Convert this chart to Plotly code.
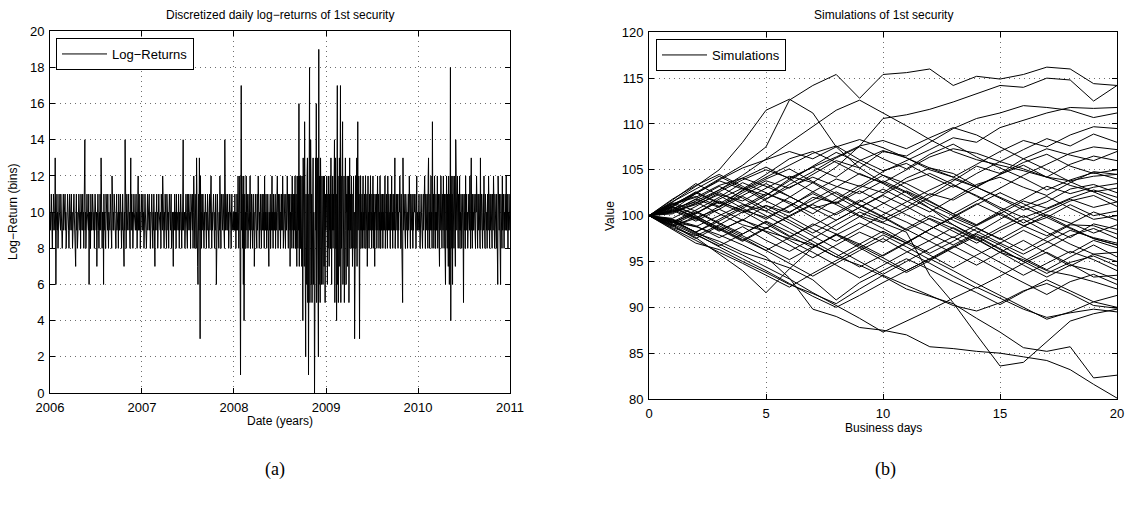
import plotly.graph_objects as go
import pandas as pd

# ---------------- data: discretized daily log-returns (bins), one list per year ----------------
ret_2006 = [10,9,10,11,9,10,8,10,9,11, 10,9,10,9,13,10,6,9,10,11, 9,10,8,10,9,11,10,9,10,9,
            11,10,9,10,8,9,10,11,9,10, 9,10,11,9,10,8,10,9,10,11, 9,10,9,8,10,11,9,10,9,10,
            11,9,10,8,9,10,9,11,10,9, 10,9,7,10,11,9,10,8,10,9, 10,11,9,10,9,10,8,11,9,10,
            9,10,11,9,10,8,10,9,14,9, 10,8,10,9,11,10,9,10,9,11, 6,10,9,10,8,11,9,10,9,10,
            11,9,10,9,10,8,10,11,9,10, 9,10,7,9,10,11,10,9,8,10, 9,11,10,9,13,10,9,8,10,9,
            10,6,11,9,10,9,10,8,11,10, 9,10,9,11,10,8,10,9,10,9, 11,10,9,10,8,12,9,10,9,10,
            9,11,10,9,10,9,8,10,11,9, 10,9,10,8,11,9,10,9,10,11, 9,10,8,10,9,11,10,9,10,7,
            10,9,14,10,9,8,10,11,9,10, 9,10,11,9,10,9,8,10,13,9, 10,11,9,10,8,10,9,11,10,9,
            10,9,10,11,9,10,8,9,10,12, 9,10,11,9,10,8,10,9,11,10]
ret_2007 = [9,10,11,9,10,8,10,9,11,10, 9,10,8,9,10,11,9,10,9,10, 11,9,10,8,10,9,10,11,9,10,
            8,10,9,11,10,9,7,10,9,10, 10,11,9,10,8,10,9,11,10,9, 10,9,10,8,11,9,10,9,12,10,
            9,10,8,10,9,11,10,9,10,8, 11,9,10,9,10,8,10,11,9,10, 9,10,11,8,10,9,10,9,7,10,
            10,9,11,10,9,10,8,11,9,10, 9,10,9,11,10,8,10,9,10,11, 10,9,8,10,9,11,14,9,10,9,
            10,8,10,9,11,10,9,10,8,11, 9,10,11,9,10,9,10,8,11,10, 9,10,9,11,8,10,12,9,10,8,
            11,9,10,8,13,9,10,7,6,10, 11,9,13,10,3,12,9,10,8,11, 9,10,11,9,10,8,10,9,10,11,
            9,10,8,10,9,11,10,9,10,8, 10,11,9,10,9,12,10,8,10,9, 10,9,11,10,9,8,10,9,11,10,
            6,10,9,11,10,9,10,8,10,9, 12,9,10,8,11,10,9,10,9,11, 10,9,10,8,14,10,9,11,10,9,
            9,10,11,9,10,8,10,9,11,10, 10,9,8,10,11,9,10,9,10,9]
ret_2008 = [10,9,11,9,10,8,10,9,11,10, 9,12,10,8,11,9,12,6,1,10, 17,9,12,10,8,11,6,12,4,10,
            11,9,10,8,12,10,9,11,10,8, 10,9,11,10,9,12,8,10,9,11, 10,9,8,10,11,9,10,7,10,9,
            11,10,9,10,8,11,9,10,12,9, 10,8,10,9,11,10,9,8,10,11, 9,10,11,9,10,8,12,9,10,9,
            11,10,8,10,9,11,10,9,7,10, 9,10,11,8,10,9,10,12,9,10, 8,11,9,10,9,10,11,8,10,9,
            10,9,12,10,8,11,9,10,9,11, 10,8,10,9,11,10,9,12,10,8, 9,11,10,9,10,8,11,10,9,10,
            12,9,10,8,11,9,10,11,7,10, 9,11,10,8,12,10,9,11,8,10, 11,9,12,8,10,11,9,7,12,10,
            8,12,9,16,7,12,10,8,12,9, 11,7,12,9,4,13,9,12,7,15, 8,12,2,11,9,6,12,13,5,11,
            1,13,7,18,5,10,14,12,6,11, 5,12,9,13,6,10,8,0,12,6, 13,9,16,5,11,8,13,6,2,19,
            6,12,9,5,13,7,11,6,12,8, 11,6,12,9,7,12,10,5,11,9]
ret_2009 = [10,12,9,6,11,8,12,10,7,11, 9,12,8,13,10,6,11,9,12,8, 11,9,12,14,5,10,13,8,11,4,
            10,17,6,12,5,11,9,13,7,11, 17,5,12,8,10,13,15,6,11,9, 12,5,10,8,13,9,6,11,10,12,
            7,11,9,12,5,10,13,8,11,9, 10,12,8,11,7,10,9,12,8,10, 3,11,9,12,8,10,13,7,11,15,
            9,10,12,8,3,11,9,12,8,10, 9,11,8,10,12,9,10,8,11,9, 10,12,8,10,9,11,7,10,12,9,
            10,8,11,9,10,12,9,10,8,11, 9,10,12,8,11,9,10,7,11,9, 10,9,11,8,10,12,9,10,11,8,
            10,9,12,10,8,11,9,10,9,11, 8,10,9,11,10,9,12,8,10,9, 11,9,10,8,12,10,9,11,10,9,
            10,8,11,9,10,12,9,10,8,11, 9,10,11,9,13,8,10,9,11,10, 9,11,10,8,10,9,11,10,12,9,
            10,8,11,9,10,9,5,13,10,9, 11,10,9,10,8,11,9,10,9,10, 8,10,11,9,10,12,9,10,8,11,
            9,10,9,11,10,8,10,9,11,10, 10,11,9,10,8,10,12,9,10,9]
ret_2010 = [9,10,11,9,10,8,10,9,11,10, 9,10,8,10,11,9,10,9,12,10, 8,11,9,10,9,11,10,8,12,13,
            9,10,8,11,9,10,12,9,10,8, 15,10,9,11,8,10,12,9,10,8, 11,9,10,9,12,8,10,11,9,10,
            7,11,9,10,12,9,10,8,11,10, 9,12,10,8,11,9,10,6,11,9, 12,10,8,11,9,7,12,10,6,11,
            9,18,4,12,10,8,11,6,12,9, 11,8,12,10,9,7,14,10,11,9, 10,12,9,8,11,10,9,12,8,10,
            9,11,10,8,10,9,11,9,5,10, 11,9,10,8,12,9,10,11,9,10, 8,10,9,11,10,9,12,10,8,11,
            13,9,10,8,11,9,10,9,11,10, 9,10,8,11,10,12,9,10,8,11, 10,9,11,9,10,8,13,9,10,11,
            9,10,8,10,11,9,12,10,9,8, 11,9,10,9,10,8,11,10,9,12, 10,9,8,11,9,10,11,9,10,8,
            11,10,9,12,9,10,8,11,10,9, 10,8,11,9,10,6,12,9,10,9, 11,9,10,6,11,9,10,8,12,9,
            10,11,9,8,10,9,11,10,9,12, 9,10,11,9,8,10,9,11,10,9]
years = [2006, 2007, 2008, 2009, 2010]
year_ticks = ["2006", "2007", "2008", "2009", "2010", "2011"]

# ---------------- data: simulated price paths over 20 business days ----------------
days = [0, 1, 2, 3, 4, 5, 6, 7, 8, 9, 10, 11, 12, 13, 14, 15, 16, 17, 18, 19, 20]
p01 = [100, 101, 102.5, 104, 105.5, 107.5, 112.6, 114.2, 115.4, 112.8, 115.4, 115.6, 116, 114.2, 115.2, 114.9, 115.4, 116.2, 116, 114.4, 114.2]
p02 = [100, 101.5, 103.2, 105, 108, 111.5, 112.7, 111.2, 107.5, 105.2, 103.6, 102.5, 100.8, 99, 97.5, 96, 95.2, 94, 93.5, 92.8, 92]
p03 = [100, 99.5, 98.8, 100, 101.2, 100.5, 102, 103.6, 105.3, 107.6, 110.6, 111, 111.6, 112.4, 113.3, 114.2, 114, 115, 114.8, 112.5, 114.2]
p04 = [100, 100.5, 101.8, 100.9, 102.5, 103.8, 103, 104.5, 106, 105.2, 107, 106.5, 108, 109.5, 110.6, 111.2, 112, 111.8, 111.5, 110.7, 111.2]
p05 = [100, 99.2, 100.3, 101.5, 100.6, 99.8, 101, 102.6, 104, 103.2, 104.8, 106, 107.2, 108.5, 108, 109.6, 110.4, 111.2, 111.8, 111.7, 111.8]
p06 = [100, 101, 100.2, 101.8, 103, 102.2, 104, 105.3, 104.2, 106, 107.1, 106.3, 105, 104.2, 105.6, 107, 108.2, 107.5, 108.8, 109.7, 109.5]
p07 = [100, 100.6, 102.4, 103.8, 102.9, 104.5, 106.2, 107, 105.8, 104.5, 103.6, 105, 106.4, 107.3, 106.8, 105.9, 107.2, 108.4, 107.6, 108.9, 108]
p08 = [100, 98.9, 99.7, 98.4, 99.5, 101.1, 100.3, 102, 101.4, 103, 104.4, 103.5, 102.2, 103.8, 105.4, 104.6, 106.2, 107.3, 106.6, 106, 107]
p09 = [100, 101.3, 102.1, 101, 102.8, 104.2, 105.5, 106.8, 107.6, 106.1, 104.9, 105.7, 104.3, 103.1, 104.6, 105.9, 105.1, 104.2, 105.6, 106.5, 106]
p10 = [100, 99.4, 98.2, 99.6, 101, 102.4, 101.5, 100.2, 101.8, 103.3, 102.5, 104.1, 105.2, 104.6, 103.2, 104.5, 105.8, 106.7, 105.4, 104.6, 105]
p11 = [100, 100.9, 99.8, 100.7, 99.5, 98.6, 99.9, 101.2, 100.1, 101.5, 102.9, 101.6, 100.4, 101.9, 103.4, 104.2, 103.1, 102.2, 103.6, 104.8, 104.5]
p12 = [100, 101.8, 103.3, 104.5, 103.2, 101.8, 103.4, 104.8, 106.3, 107.5, 106.2, 105.1, 106.7, 107.8, 106.4, 105.2, 104.1, 102.8, 103.9, 104.7, 104]
p13 = [100, 99.3, 100.6, 102, 103.6, 102.5, 101.3, 99.8, 98.4, 99.9, 101.3, 102.7, 101.5, 100.2, 99, 100.5, 101.8, 103.2, 102.4, 103.1, 103.5]
p14 = [100, 100.4, 101.2, 102.3, 101.6, 103, 104.3, 103.6, 102.1, 100.7, 99.6, 100.9, 102.4, 101.7, 103.1, 104.5, 105.5, 104.2, 103.3, 102.6, 103]
p15 = [100, 98.7, 97.8, 99, 100.4, 101.1, 99.9, 98.5, 97.2, 98.6, 100.1, 101.5, 102.8, 104, 103.1, 101.9, 100.6, 101.5, 102.9, 103.4, 102.5]
p16 = [100, 101.1, 102.6, 101.4, 100.3, 101.8, 103.1, 104.2, 103.2, 102.4, 103.8, 102.6, 101.2, 100, 98.9, 100.2, 101.6, 100.8, 101.9, 102.8, 102]
p17 = [100, 99.6, 98.9, 97.6, 98.8, 97.3, 96.1, 97.5, 99, 100.4, 99.3, 100.6, 102, 103.3, 102.2, 100.9, 99.8, 100.7, 101.8, 100.9, 101.5]
p18 = [100, 100.7, 99.6, 101, 102.2, 103.5, 102.1, 100.8, 99.5, 100.9, 102.3, 103.7, 104.6, 103.4, 102.1, 100.7, 99.2, 100.4, 101.6, 102.2, 101]
p19 = [100, 101.4, 100.5, 99.2, 98, 99.3, 97.8, 96.5, 97.9, 99.2, 98.1, 97, 98.5, 99.9, 101.3, 100.1, 98.9, 99.8, 101.2, 100, 100.5]
p20 = [100, 99, 100.2, 101.6, 100.5, 99.1, 97.7, 98.9, 100.3, 101.7, 100.4, 99.3, 98, 96.8, 98.1, 99.6, 101, 102.1, 100.8, 99.6, 100]
p21 = [100, 100.3, 101.6, 102.8, 104.1, 105.3, 104, 102.6, 101.3, 102.7, 101.4, 100.1, 98.9, 97.6, 99, 100.3, 98.9, 97.8, 99.1, 100.4, 99.5]
p22 = [100, 98.8, 99.9, 98.7, 97.4, 96.2, 97.6, 99.1, 98, 96.9, 95.6, 97, 98.5, 99.8, 98.7, 97.4, 98.8, 100.1, 99.2, 98.1, 99]
p23 = [100, 101.2, 102.5, 101.3, 102.7, 104, 105.1, 103.7, 102.4, 101.1, 99.8, 98.4, 99.7, 98.6, 97.3, 98.7, 100, 98.8, 97.6, 99.1, 98.5]
p24 = [100, 99.5, 98.2, 99.4, 100.8, 99.6, 101.1, 102.4, 101.2, 99.9, 98.6, 97.2, 95.9, 97.2, 98.6, 97.5, 96.2, 97.6, 99, 98.9, 98]
p25 = [100, 100.9, 99.7, 98.3, 99.6, 98.2, 96.8, 95.4, 96.8, 98.2, 97.1, 98.6, 100, 99, 97.7, 96.3, 95, 96.4, 97.8, 98.6, 97.5]
p26 = [100, 101.5, 102.9, 104.3, 103, 101.6, 100.4, 101.7, 103.1, 104.6, 103.5, 102.1, 100.8, 99.5, 98.3, 97, 95.8, 97.1, 98.4, 97.6, 97]
p27 = [100, 99.1, 97.9, 96.7, 98, 99.4, 98.2, 96.9, 95.5, 96.9, 98.3, 97, 95.7, 94.3, 95.7, 97, 98.4, 97.2, 95.9, 97.3, 96.5]
p28 = [100, 100.6, 99.4, 100.7, 102.1, 100.8, 99.5, 98.1, 99.5, 100.9, 102.2, 101, 99.6, 98.3, 97, 98.4, 99.6, 98.2, 96.9, 95.8, 96]
p29 = [100, 98.6, 97.3, 96, 94.8, 93.5, 92.2, 93.7, 95.1, 96.5, 97.9, 96.6, 95.2, 96.6, 98, 96.8, 95.4, 94.1, 95.5, 96.8, 95.5]
p30 = [100, 101, 99.8, 98.5, 97.2, 98.6, 100, 101.3, 102.6, 101.2, 99.9, 98.5, 97.2, 95.9, 94.6, 96, 97.3, 95.9, 94.5, 95.8, 95]
p31 = [100, 99.2, 100.4, 99.1, 97.8, 96.5, 95.2, 96.6, 97.9, 96.5, 95.1, 93.8, 95.1, 96.5, 97.8, 96.4, 95, 93.7, 94.9, 95.6, 94.5]
p32 = [100, 100.5, 101.8, 103.2, 101.9, 100.5, 99.2, 97.8, 96.4, 95, 93.6, 95, 96.4, 97.7, 96.3, 94.9, 93.5, 94.8, 96.1, 95.2, 94]
p33 = [100, 98.9, 97.5, 98.9, 97.6, 96.2, 94.8, 93.4, 94.8, 96.2, 97.5, 96.1, 94.8, 93.4, 92.1, 93.4, 94.8, 96, 94.7, 93.3, 93.5]
p34 = [100, 101.3, 100, 98.6, 97.3, 98.7, 97.3, 96, 94.6, 93.2, 94.6, 96, 97.3, 98.7, 97.4, 96, 94.6, 93.3, 94.6, 94, 93]
p35 = [100, 99, 97.6, 95.8, 94, 91.6, 94.2, 96.5, 98, 96.7, 95.4, 94, 95.3, 96.7, 95.4, 94, 92.7, 91.4, 92.8, 93.6, 92.5]
p36 = [100, 99.3, 98, 96.6, 95.3, 94, 92.6, 91.2, 90, 91.3, 92.7, 94, 95.3, 94, 92.6, 91.3, 90, 88.7, 89.5, 90.6, 90]
p37 = [100, 99.4, 98.2, 96.9, 95.7, 94.4, 93.1, 91.6, 90.2, 88.8, 87.3, 88.5, 89.7, 91, 92.2, 91, 89.8, 88.9, 89.4, 89.8, 89.5]
p38 = [100, 99.3, 98.8, 97.9, 96.8, 95.5, 93.2, 89.8, 89, 87.8, 87.5, 87, 85.7, 85.5, 85.2, 85, 84.6, 84.2, 83.2, 81.6, 80.1]
p39 = [100, 100.8, 101.5, 100.2, 99, 98.3, 97.5, 96.8, 95.5, 94.6, 93.4, 92, 91.2, 90.4, 88.8, 87.3, 85.6, 85.2, 85.7, 82.3, 82.6]
p40 = [100, 101.2, 102, 103.3, 104.1, 103.2, 102.1, 100.8, 101.5, 100, 99.2, 98.2, 93.5, 90.5, 87, 83.6, 84, 86.3, 88.5, 89.3, 89.8]
p41 = [100, 99.6, 98.1, 97.2, 96, 95.2, 94.3, 93, 90.8, 92.7, 94, 95.3, 94.1, 92.8, 91.6, 90.3, 91.7, 93, 91.8, 90.6, 91.3]
p42 = [100, 101, 102.4, 103.9, 105.2, 106.1, 107, 106.2, 107.5, 108.3, 107.4, 106.3, 105.2, 104.2, 103.1, 102, 100.9, 99.8, 98.6, 97.5, 96.8]
p43 = [100, 100.2, 101.4, 102.6, 103.9, 105, 104.1, 105.3, 106.4, 107.6, 108.2, 107.3, 108.5, 109.6, 108.8, 107.5, 106.2, 105, 103.7, 102.6, 101.5]
p44 = [100, 101.7, 103.5, 102.2, 100.8, 102.2, 103.8, 105.4, 106.9, 105.8, 104.4, 103, 101.6, 100.2, 101.6, 103, 104.4, 105.6, 106.8, 107.5, 107.2]
p45 = [100, 99.7, 101, 102.5, 101.3, 100, 98.6, 97.2, 95.8, 94.4, 95.7, 97.1, 98.5, 99.8, 101.2, 102.5, 101.3, 100, 98.7, 97.5, 96.8]
p46 = [100, 100.4, 101.3, 102.8, 104.4, 106.2, 108, 109.8, 111.5, 112.6, 111.2, 109.8, 108.3, 107, 106.1, 105.5, 104.9, 104.2, 103.8, 104.3, 104.5]
p47 = [100, 98.5, 97, 96.3, 95, 93.8, 92.5, 91.5, 90.4, 92, 93.5, 92.4, 91.3, 90.2, 89.6, 90.5, 91.8, 92.6, 91.5, 90.2, 89.9]

paths = [p01, p02, p03, p04, p05, p06, p07, p08, p09, p10, p11, p12, p13, p14, p15, p16,
         p17, p18, p19, p20, p21, p22, p23, p24, p25, p26, p27, p28, p29, p30, p31, p32,
         p33, p34, p35, p36, p37, p38, p39, p40, p41, p42, p43, p44, p45, p46, p47]
returns = [ret_2006, ret_2007, ret_2008, ret_2009, ret_2010]

# ---------------- build figure ----------------
W, H = 1129, 509
FONT = "Liberation Sans, Arial, Helvetica, sans-serif"


def px_x(p):
    return p / W


def px_y(p):
    return (H - p) / H


dates, vals = [], []
for y, r in zip(years, returns):
    d = pd.date_range(f"{y}-01-02", f"{y}-12-31", periods=len(r))
    dates.extend(list(d))
    vals.extend(r)

fig = go.Figure()
fig.add_trace(go.Scatter(x=dates, y=vals, mode="lines", name="Log\u2212Returns",
                         line=dict(color="black", width=1), xaxis="x", yaxis="y",
                         legend="legend"))
for i, p in enumerate(paths):
    fig.add_trace(go.Scatter(x=days[:len(p)], y=p, mode="lines", name="Simulations",
                             line=dict(color="black", width=1), xaxis="x2", yaxis="y2",
                             showlegend=(i == 0), legend="legend2"))

axis_common = dict(showline=True, linecolor="black", linewidth=1, mirror="ticks",
                   ticks="inside", ticklen=5, tickcolor="black", showgrid=True,
                   gridcolor="#6e6e6e", griddash="1px,4px", gridwidth=1, zeroline=False,
                   tickfont=dict(family=FONT, size=13, color="black"))

fig.update_layout(
    width=W, height=H, autosize=False,
    margin=dict(l=0, r=0, t=0, b=0, pad=0, autoexpand=False),
    paper_bgcolor="white", plot_bgcolor="white",
    xaxis=dict(domain=[px_x(50), px_x(510)], anchor="y", type="date",
               range=["2006-01-01", "2011-01-01"],
               tickvals=[f"{t}-01-01" for t in year_ticks], ticktext=year_ticks,
               ticklabelstandoff=2, **axis_common),
    yaxis=dict(domain=[px_y(393), px_y(31.3)], anchor="x", range=[0, 20], dtick=2,
               ticklabelstandoff=2, **axis_common),
    xaxis2=dict(domain=[px_x(649), px_x(1117)], anchor="y2", range=[0, 20], dtick=5,
                ticklabelstandoff=2, **axis_common),
    yaxis2=dict(domain=[px_y(399), px_y(32.3)], anchor="x2", range=[80, 120], dtick=5,
                ticklabelstandoff=2, **axis_common),
    legend=dict(x=px_x(56), y=px_y(38), xanchor="left", yanchor="top",
                bgcolor="white", bordercolor="black", borderwidth=1,
                font=dict(family=FONT, size=13, color="black"), itemwidth=45,
                tracegroupgap=0),
    legend2=dict(x=px_x(656), y=px_y(39), xanchor="left", yanchor="top",
                 bgcolor="white", bordercolor="black", borderwidth=1,
                 font=dict(family=FONT, size=13, color="black"), itemwidth=45,
                 tracegroupgap=0),
    showlegend=True,
)

ann_font = dict(family=FONT, size=12, color="black")
serif = dict(family="Liberation Serif, DejaVu Serif, serif", size=18, color="black")
annotations = [
    dict(text="Discretized daily log\u2212returns of 1st security", x=px_x(280), y=px_y(15),
         font=ann_font),
    dict(text="Simulations of 1st security", x=px_x(883), y=px_y(15), font=ann_font),
    dict(text="Date (years)", x=px_x(280), y=px_y(421), font=ann_font),
    dict(text="Business days", x=px_x(883), y=px_y(428), font=ann_font),
    dict(text="Log\u2212Return (bins)", x=px_x(13), y=px_y(212), font=ann_font, textangle=-90),
    dict(text="Value", x=px_x(610), y=px_y(216), font=ann_font, textangle=-90),
    dict(text="(a)", x=px_x(275), y=px_y(469), font=serif),
    dict(text="(b)", x=px_x(885), y=px_y(469), font=serif),
]
for a in annotations:
    a.update(xref="paper", yref="paper", showarrow=False, xanchor="center", yanchor="middle")
fig.update_layout(annotations=annotations)

fig.write_html("out.html")
